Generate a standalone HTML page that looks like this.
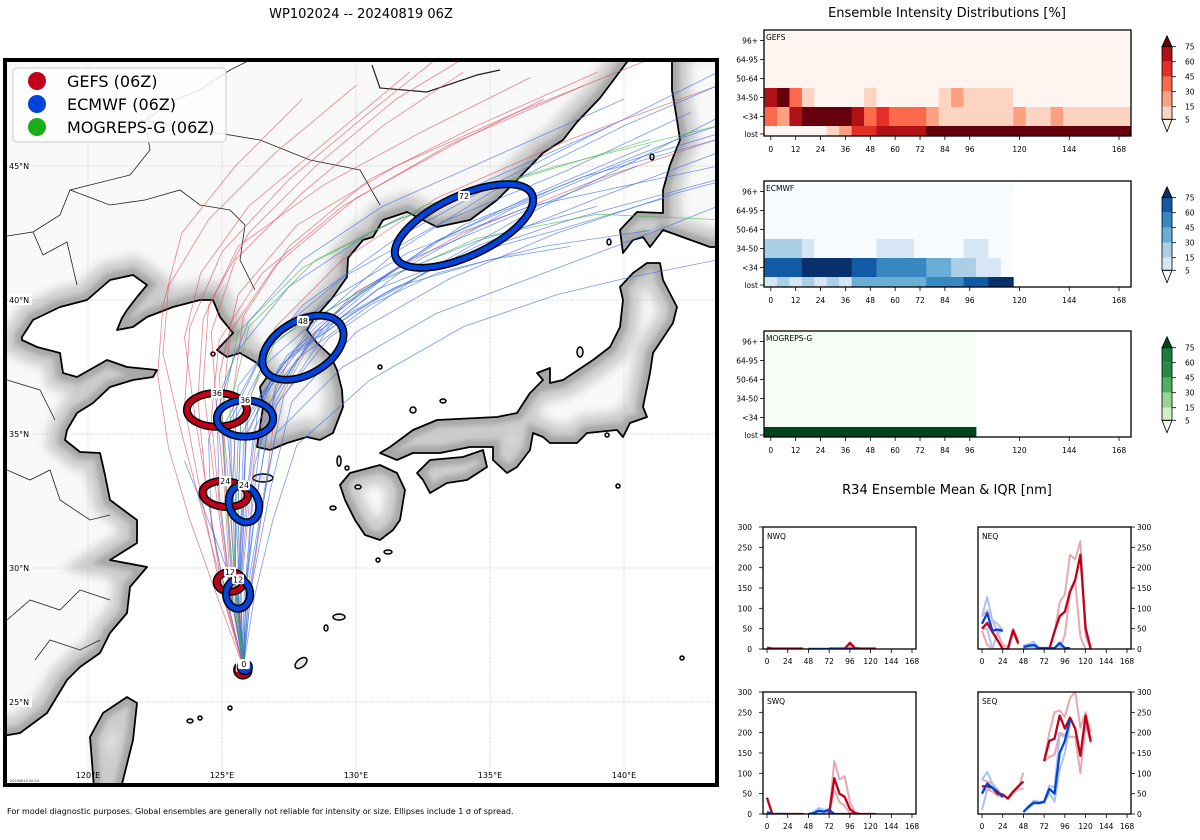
<!DOCTYPE html>
<html><head><meta charset="utf-8"><title>WP102024 ensemble</title>
<style>
html,body{margin:0;padding:0;background:#fff;}
svg{display:block;font-family:"DejaVu Sans","Liberation Sans",sans-serif;}
</style></head>
<body>
<svg id="s" width="1200" height="840" viewBox="0 0 1200 840" xmlns="http://www.w3.org/2000/svg">
<defs>
<clipPath id="mapclip"><rect x="7" y="62" width="708" height="721"/></clipPath>
<clipPath id="landclip"><path id="landclipPath" d=""/></clipPath>
<filter id="blur" x="-20%" y="-20%" width="140%" height="140%"><feGaussianBlur stdDeviation="5"/></filter>
<filter id="blur2" x="-20%" y="-20%" width="140%" height="140%"><feGaussianBlur stdDeviation="2.5"/></filter>
</defs>
<text x="361" y="18" font-size="13" text-anchor="middle">WP102024 -- 20240819 06Z</text>
<g id="mapg" clip-path="url(#mapclip)">
<rect x="0" y="0" width="720" height="790" fill="#fff"/>
<path id="landFill" fill="#f9f9f9"/>
<g clip-path="url(#landclip)">
<path id="landHalo" fill="none" stroke="#cccccc" stroke-width="36" filter="url(#blur)"/>
<path id="landHalo2" fill="none" stroke="#a8a8a8" stroke-width="14" filter="url(#blur2)"/>
</g>
<g id="grid"></g>
<g id="borders" fill="none" stroke="#222" stroke-width="0.8">
<path d="M7,236 L33,232 L43,255 L67,242 L77,285 M33,232 L60,215 L70,190 L130,175 L150,150 L145,120 L175,100 L200,90 L230,70 L250,60"/>
<path d="M70,190 L110,205 L145,200 L180,190 L200,205 L230,210 L245,225 L240,260 L255,290"/>
<path d="M140,120 L200,130 L260,140 L310,160 L360,170 L380,205"/>
<path d="M372,65 L380,88 L427,92 L477,75 L500,70" stroke-width="1.2"/>
<path d="M7,470 L30,480 L50,470 L60,500 L90,520 L110,515 M7,620 L30,600 L60,610 L80,590 L110,600 M35,660 L50,640 L80,650 L100,640 M7,380 L40,390 L55,420"/>
</g>
<path id="landLine" fill="none" stroke="#000" stroke-width="1.8" stroke-linejoin="round"/>
<g id="islands" fill="#e6e6e6" stroke="#000" stroke-width="1.5">
<ellipse cx="263" cy="478" rx="10" ry="4"/>
<ellipse cx="339" cy="461" rx="2" ry="5"/>
<ellipse cx="333" cy="508" rx="3" ry="2"/>
<ellipse cx="347" cy="468" rx="2" ry="2"/>
<ellipse cx="358" cy="487" rx="3" ry="2"/>
<ellipse cx="413" cy="410" rx="3" ry="3"/>
<ellipse cx="443" cy="401" rx="3" ry="2"/>
<ellipse cx="580" cy="352" rx="3" ry="5"/>
<ellipse cx="609" cy="242" rx="2" ry="3"/>
<ellipse cx="339" cy="617" rx="6" ry="3"/>
<ellipse cx="326" cy="628" rx="2" ry="3"/>
<ellipse cx="301" cy="663" rx="7" ry="4" transform="rotate(-40 301 663)"/>
<ellipse cx="190" cy="721" rx="3" ry="2"/>
<ellipse cx="200" cy="718" rx="2" ry="2"/>
<ellipse cx="230" cy="708" rx="2" ry="2"/>
<ellipse cx="388" cy="552" rx="4" ry="2"/>
<ellipse cx="378" cy="560" rx="2" ry="2"/>
<ellipse cx="213" cy="354" rx="2" ry="2"/>
<ellipse cx="380" cy="367" rx="2" ry="2"/>
<ellipse cx="618" cy="486" rx="2" ry="2"/>
<ellipse cx="682" cy="658" rx="2" ry="2"/>
<ellipse cx="607" cy="435" rx="2" ry="2"/>
<ellipse cx="652" cy="157" rx="2" ry="3"/>
</g>
<g id="tracks" fill="none"></g>
<g id="ellipses"></g>
</g>
<rect x="5" y="60" width="712" height="725" fill="none" stroke="#000" stroke-width="4"/>
<g id="latlabels" font-size="8"></g>
<g id="lonlabels" font-size="8"></g>
<text x="10" y="782" font-size="3.5" fill="#333">20240819 20:04</text>
<g>
<rect x="13" y="68" width="213" height="74" rx="4" fill="#fff" fill-opacity="0.85" stroke="#ccc" stroke-width="1"/>
<circle cx="37" cy="81" r="9" fill="#c0001a"/>
<text x="67" y="87" font-size="16">GEFS (06Z)</text>
<circle cx="37" cy="104" r="9" fill="#0044dd"/>
<text x="67" y="110" font-size="16">ECMWF (06Z)</text>
<circle cx="37" cy="127" r="9" fill="#1aae1a"/>
<text x="67" y="133" font-size="16">MOGREPS-G (06Z)</text>
</g>
<text x="7" y="814" font-size="8">For model diagnostic purposes. Global ensembles are generally not reliable for intensity or size. Ellipses include 1 σ of spread.</text>
<text x="947" y="17" font-size="13" text-anchor="middle">Ensemble Intensity Distributions [%]</text>
<g id="heat"></g>
<text x="947" y="494" font-size="13" text-anchor="middle">R34 Ensemble Mean &amp; IQR [nm]</text>
<g id="r34"></g>
</svg>
<script>
// ---------- Heatmap data (percent), 6h columns ----------
const heatRowLabels = ["96+","64-95","50-64","34-50","<34","lost"];
const heatTicks = [0,12,24,36,48,60,72,84,96,120,144,168];
const cbarTicks = [75,60,45,30,15,5];
const gefsUpper = [0,0,0,0,0,0,0,0,0,0,0,0,0,0,0,0,0,0,0,0,0,0,0,0,0,0,0,0,0,0];
const gefs3450 = [65,80,35,8,2,2,2,2,8,2,2,2,2,2,8,20,8,8,8,8,2,2,2,2,2,2,2,2,2,2];
const gefsLt34 = [35,20,65,80,80,80,80,65,35,50,35,35,35,20,8,8,8,8,8,8,20,8,8,20,8,8,8,8,8,8];
const gefsLost = [2,2,2,2,2,8,20,50,50,65,65,65,65,80,80,80,80,80,80,80,80,80,80,80,80,80,80,80,80,80];
const ecUpper = [0,0,0,0,0,0,0,0,0,0,0,0,0,0,0,0,0,0,0,0];
const ec3450 = [20,20,20,8,2,2,2,2,2,8,8,8,2,2,2,2,8,8,2,2];
const ecLt34 = [65,65,65,80,80,80,80,65,65,50,50,50,50,35,35,20,20,8,8,2];
const ecLost = [8,20,8,20,8,20,8,35,35,35,35,35,35,50,50,50,65,65,80,80];
const mogUpper = [0,0,0,0,0,0,0,0,0,0,0,0,0,0,0,0,0];
const mogLost = [80,80,80,80,80,80,80,80,80,80,80,80,80,80,80,80,80];

// ---------- R34 data (nm), 6h steps from 0 to 168 ----------
const r34Hours = [0,6,12,18,24,30,36,42,48,54,60,66,72,78,84,90,96,102,108,114,120,126,132,138,144,150,156,162,168];
const r34Ticks = [0,24,48,72,96,120,144,168];
const r34YTicks = [0,50,100,150,200,250,300];
const N = null;
const nwqGefsMean = [3,1,1,1,1,1,1,1,N,N,N,N,1,1,1,1,15,2,1,1,1,1];
const nwqGefsHi = [4,2,2,2,2,2,2,2,N,N,N,N,2,2,2,2,16,3,2,2,2,2];
const nwqGefsLo = [0,0,0,0,0,0,0,0,N,N,N,N,0,0,0,0,10,0,0,0,0,0];
const nwqEcMean = [N,N,N,N,N,N,N,N,0,0,0,0,0,1,1,1,1,1];
const nwqEcHi = [N,N,N,N,N,N,N,N,1,1,1,1,1,2,2,2,2,2];
const nwqEcLo = [N,N,N,N,N,N,N,N,0,0,0,0,0,0,0,0,0,0];
const neqGefsMean = [50,64,42,22,0,0,46,14,N,N,N,N,N,0,43,81,92,141,170,232,51,0];
const neqGefsHi = [80,95,72,40,10,5,50,20,N,N,N,N,N,0,40,115,135,232,220,265,30,0];
const neqGefsLo = [45,10,0,0,0,0,40,10,N,N,N,N,N,0,0,0,35,140,165,30,0,0];
const neqEcMean = [62,88,45,48,45,N,N,N,5,8,10,2,2,2,2,15,2,2];
const neqEcHi = [80,128,70,62,45,N,N,N,8,12,18,3,3,3,3,15,3,3];
const neqEcLo = [50,50,0,40,45,N,N,N,3,5,5,0,0,0,0,10,0,0];
const swqGefsMean = [40,0,0,0,0,0,0,0,N,N,N,N,0,88,50,42,12,2,0,0,0,0];
const swqGefsHi = [40,0,0,0,0,0,0,0,N,N,N,N,0,130,85,93,30,5,0,0,0,0];
const swqGefsLo = [40,0,0,0,0,0,0,0,N,N,N,N,0,60,30,20,2,0,0,0,0,0];
const swqEcMean = [5,0,0,0,0,N,N,N,0,2,8,6,10,0,0,0,0,0];
const swqEcHi = [5,0,0,0,0,N,N,N,0,5,15,10,12,0,0,0,0,0];
const swqEcLo = [5,0,0,0,0,N,N,N,0,0,2,2,5,0,0,0,0,0];
const seqGefsMean = [68,68,65,50,48,38,55,68,80,N,N,N,130,180,185,242,210,237,210,143,242,178];
const seqGefsHi = [85,80,75,60,45,40,55,65,102,N,N,N,130,200,250,255,238,285,300,212,250,200];
const seqGefsLo = [60,60,55,45,45,38,50,62,62,N,N,N,130,140,145,200,195,190,190,100,220,175];
const seqEcMean = [50,75,65,55,42,N,N,N,5,18,28,27,30,62,50,150,180,232];
const seqEcHi = [85,103,75,55,40,N,N,N,5,20,33,30,30,70,65,195,190,225];
const seqEcLo = [10,60,65,50,40,N,N,N,5,15,25,25,28,52,30,110,150,220];

// ---------- Map data (lon, lat) ----------
const gridLats = [25,30,35,40,45];
const gridLons = [120,125,130,135,140];
const blueTracks = [
[[125.8,26.3],[125.6,29.0],[125.8,32.4],[125.9,35.6],[128.0,38.3],[131.0,40.8],[134.0,42.8],[138.5,44.6],[143.5,46.0]],
[[125.8,26.3],[125.9,29.2],[126.3,32.6],[126.8,35.8],[129.0,38.6],[132.5,41.0],[136.0,43.0],[141.0,45.5],[143.5,46.8]],
[[125.8,26.3],[125.4,28.8],[125.2,32.0],[125.0,35.2],[126.5,38.0],[129.0,40.0],[132.0,41.8],[136.5,43.5],[143.5,45.0]],
[[125.8,26.3],[125.7,29.4],[126.0,33.0],[126.4,36.4],[128.5,39.2],[131.5,41.8],[135.0,44.0],[140.0,46.5],[143.5,48.0]],
[[125.8,26.3],[125.5,28.6],[125.5,31.6],[125.6,34.8],[127.2,37.6],[130.0,39.6],[133.5,41.5],[138.0,43.0],[143.5,44.5]],
[[125.8,26.3],[126.0,29.0],[126.5,32.2],[127.0,35.0],[129.5,37.5],[133.0,39.5],[137.0,41.0],[141.0,42.5],[143.5,43.5]],
[[125.8,26.3],[125.3,29.3],[124.9,32.8],[124.8,36.2],[126.0,39.2],[128.0,41.5],[131.0,43.5],[135.5,45.5],[140.0,47.5]],
[[125.8,26.3],[125.6,28.9],[125.9,32.5],[126.2,35.2],[127.8,37.8],[130.5,39.8],[133.0,41.0],[137.0,42.0],[141.0,42.6]],
[[125.8,26.3],[125.9,29.6],[126.4,33.3],[127.0,36.8],[129.5,39.8],[133.0,42.2],[137.5,44.2],[142.0,46.0],[143.5,46.5]],
[[125.8,26.3],[125.7,28.7],[125.7,31.8],[125.8,34.6],[126.8,37.0],[128.5,39.0],[131.0,40.8],[134.5,42.2],[139.0,43.5]],
[[125.8,26.3],[126.1,29.3],[126.8,32.9],[127.6,36.2],[130.0,38.8],[133.5,40.8],[137.5,42.5],[142.0,44.0],[143.5,44.4]],
[[125.8,26.3],[125.2,28.8],[124.6,31.6],[124.5,34.8],[125.5,38.0],[127.5,40.5],[130.5,42.5],[135.0,44.5],[139.5,46.5]],
[[125.8,26.3],[125.6,29.1],[125.6,32.2],[125.7,35.4],[127.6,38.0],[131.0,40.2],[134.5,42.0],[139.0,43.8],[143.5,45.5]],
[[125.8,26.3],[125.8,28.5],[126.0,31.0],[126.2,33.8],[127.0,36.5],[128.5,38.8],[131.5,40.5],[135.0,41.5],[138.0,42.0]],
[[125.8,26.3],[125.5,29.5],[125.4,33.2],[125.6,36.8],[128.0,39.8],[131.5,42.3],[135.5,44.5],[140.5,47.0],[143.5,48.5]],
[[125.8,26.3],[126.2,28.9],[126.9,31.8],[127.8,34.6],[130.5,37.0],[134.0,39.0],[137.5,40.2],[140.0,40.8],[143.5,41.5]],
[[125.8,26.3],[125.7,29.0],[125.5,32.0],[125.2,35.0],[126.5,37.5],[128.8,39.5],[132.0,41.5],[136.0,43.2],[140.5,45.0]],
[[125.8,26.3],[125.6,28.8],[124.8,31.0],[123.8,33.5],[123.6,34.0]],
[[125.8,26.3],[125.9,29.0],[126.1,32.0],[126.5,35.3],[128.2,38.4],[130.8,40.4],[133.8,41.6],[137.5,42.6],[141.5,43.8]],
[[125.8,26.3],[125.5,29.1],[125.3,32.3],[125.3,35.5],[126.8,38.6],[129.6,40.9],[133.2,42.9],[137.8,44.8],[142.5,47.0]],
[[125.8,26.3],[126.0,29.5],[126.6,33.0],[127.3,36.4],[129.0,39.0],[132.0,41.3],[135.8,43.4],[140.2,45.2],[143.5,46.2]],
[[125.8,26.3],[125.7,28.9],[125.8,31.9],[125.9,35.0],[127.4,37.9],[130.2,40.3],[133.0,42.2],[136.8,44.0],[141.0,45.8]]
];
const redTracks = [
[[125.8,26.3],[125.3,29.5],[125.1,32.8],[124.8,35.9],[124.6,38.8],[125.5,41.5],[128.0,44.0],[131.0,46.5],[134.0,48.5]],
[[125.8,26.3],[125.0,29.2],[124.5,32.5],[124.0,35.6],[123.6,38.6],[124.2,41.0],[126.0,43.5],[129.0,46.0],[132.0,48.5]],
[[125.8,26.3],[125.5,29.8],[125.5,33.2],[125.4,36.4],[125.8,39.4],[127.5,42.0],[130.5,44.5],[134.5,46.5],[139.0,48.5]],
[[125.8,26.3],[125.1,29.0],[124.3,32.0],[123.5,35.0],[122.8,38.0],[123.0,40.5],[124.5,43.0],[127.0,45.5],[130.0,48.0]],
[[125.8,26.3],[125.6,29.6],[125.8,33.0],[126.0,36.2],[127.0,39.0],[129.5,41.5],[133.0,43.8],[138.0,46.0],[143.5,48.0]],
[[125.8,26.3],[124.9,29.4],[124.2,32.8],[123.6,36.0],[123.8,39.0],[125.0,41.8],[127.5,44.5],[130.5,47.0],[133.0,49.0]],
[[125.8,26.3],[125.3,29.2],[124.9,32.4],[124.6,35.6],[124.9,38.5],[126.5,41.0],[129.5,43.5],[133.5,45.8],[138.5,48.0]],
[[125.8,26.3],[125.2,29.7],[124.7,33.4],[124.3,36.8],[124.5,39.8],[126.0,42.5],[128.5,45.0],[131.5,47.5],[134.0,49.0]],
[[125.8,26.3],[125.5,29.3],[125.3,32.6],[125.0,35.8],[125.3,38.8],[127.0,41.3],[130.0,43.8],[134.0,46.0],[137.0,47.5]],
[[125.8,26.3],[125.7,29.0],[126.0,32.2],[126.3,35.0],[127.5,37.8],[130.0,40.3],[134.0,42.5],[139.0,44.5],[143.5,46.0]],
[[125.8,26.3],[124.8,29.0],[123.8,31.8],[123.0,34.5],[122.6,37.2],[122.8,39.8],[123.5,42.5],[125.5,45.0],[128.0,47.5]],
[[125.8,26.3],[125.4,29.9],[125.1,33.6],[124.9,37.2],[125.6,40.2],[127.8,42.8],[131.5,45.0],[136.0,47.0],[141.0,49.0]],
[[125.8,26.3],[126.1,29.4],[126.6,32.8],[127.0,36.0],[128.5,38.8]],
[[125.8,26.3],[125.0,29.6],[124.4,33.0],[124.1,36.3],[124.3,39.3],[125.6,42.0],[128.8,44.3],[132.5,46.3],[136.5,48.3]]
];
const greenTracks = [
[[125.8,26.3],[125.5,29.3],[125.4,32.7],[125.3,36.0],[126.0,39.0],[128.5,41.5],[132.5,43.5],[137.5,45.0],[143.5,46.5]],
[[125.8,26.3],[125.7,29.1],[125.6,32.4],[125.7,35.6],[127.0,38.5],[130.5,40.5],[134.5,42.3],[139.0,43.2],[143.5,43.0]],
[[125.8,26.3],[125.4,29.2],[125.2,32.6],[125.0,35.8],[125.6,38.8],[128.0,41.2],[131.5,43.0],[136.0,44.5],[141.0,46.0]]
];
const ellModel = ["gefs","ecmwf","gefs","ecmwf","gefs","ecmwf","ecmwf","ecmwf","gefs","ecmwf"];
const ellHour = [12,12,24,24,36,36,48,72,0,0];
const ellLon = [125.3,125.6,125.12,125.82,124.81,125.86,128.02,134.03,125.78,125.85];
const ellLat = [29.48,29.03,32.76,32.39,35.9,35.58,38.22,42.76,26.2,26.3];
const ellRx = [0.5,0.45,0.85,0.55,1.12,1.05,1.65,2.8,0.28,0.22];
const ellRy = [0.37,0.55,0.48,0.7,0.63,0.68,1.0,1.12,0.28,0.22];
const ellRot = [0,0,5,-20,0,0,-30,-25,0,0];

// ---------- helpers ----------
const NS = "http://www.w3.org/2000/svg";
function mk(tag, attrs, parent){ const e=document.createElementNS(NS,tag); for(const k in attrs) e.setAttribute(k,attrs[k]); if(parent) parent.appendChild(e); return e; }
function lonX(lon){ return 88 + (lon-120)*26.8; }
function latY(lat){ return 166 + (45-lat)*26.8; }
const PX_PER_DEG = 26.8;

// ---------- land ----------
const mainland = [[-50,-50],[640,-50],[627,62],[600,98],[577,122],[563,140],[543,153],[517,180],[497,200],[470,220],[437,227],[407,212],[383,220],[373,237],[363,240],[348,258],[347,277],[333,297],[313,320],[307,330],[317,343],[330,355],[337,370],[342,390],[343,407],[333,433],[320,440],[307,437],[287,443],[270,450],[257,447],[260,427],[263,407],[260,387],[267,377],[257,363],[240,353],[227,357],[217,350],[233,333],[220,317],[213,300],[200,300],[173,307],[147,317],[133,327],[117,330],[122,318],[127,310],[137,297],[147,285],[133,275],[110,280],[87,300],[60,307],[33,320],[22,337],[22,340],[37,347],[60,353],[63,373],[77,377],[107,360],[127,367],[157,370],[153,377],[133,380],[110,387],[93,403],[77,413],[67,430],[65,440],[80,452],[100,453],[105,475],[110,500],[137,520],[137,543],[110,560],[147,567],[130,587],[127,613],[110,633],[100,653],[80,667],[67,680],[47,713],[20,733],[-50,745]];
const hokkaido = [[672,40],[760,40],[760,247],[710,247],[663,230],[650,247],[643,237],[633,240],[623,253],[620,230],[637,212],[663,213],[663,190],[670,165],[680,140],[677,120],[672,90]];
const honshu = [[647,263],[660,263],[663,280],[677,307],[673,323],[653,353],[650,373],[643,407],[647,417],[630,423],[623,437],[617,430],[587,433],[577,443],[550,443],[543,437],[533,433],[530,450],[517,467],[507,473],[493,460],[493,447],[470,447],[440,453],[413,453],[397,460],[380,453],[390,447],[413,430],[437,420],[497,417],[517,413],[530,393],[543,380],[537,373],[550,368],[550,383],[563,380],[593,360],[610,347],[620,327],[623,300],[620,287],[633,273]];
const shikoku = [[417,473],[430,460],[463,457],[483,450],[487,467],[467,480],[447,483],[430,493],[423,480]];
const kyushu = [[350,473],[380,465],[397,473],[405,490],[400,520],[393,530],[380,540],[365,535],[355,520],[345,500],[340,485]];
const taiwan = [[127,697],[137,703],[133,740],[118,800],[95,800],[90,737],[103,713]];
function poly(p){ return "M"+p.map(q=>q[0]+","+q[1]).join("L")+"Z"; }
const landD = [mainland,hokkaido,honshu,shikoku,kyushu,taiwan].map(poly).join(" ");
document.getElementById("landFill").setAttribute("d",landD);
document.getElementById("landHalo").setAttribute("d",landD);
document.getElementById("landHalo2").setAttribute("d",landD);
document.getElementById("landLine").setAttribute("d",landD);
document.getElementById("landclipPath").setAttribute("d",landD);

// ---------- grid + labels ----------
const grid = document.getElementById("grid");
const latG = document.getElementById("latlabels");
const lonG = document.getElementById("lonlabels");
gridLats.forEach(lat=>{
  const y = latY(lat);
  const l = mk("line",{x1:7,x2:715,y1:y,y2:y,stroke:"#bbb","stroke-width":0.7,"stroke-dasharray":"1,1.5"},grid);
  
  
  const bg = mk("rect",{x:8,y:y-6,width:24,height:11,fill:"#fff",rx:2},latG);
  
  
  const t = mk("text",{x:9,y:y+3},latG); t.textContent = lat+"°N";
  
  
});
gridLons.forEach(lon=>{
  const x = lonX(lon);
  const l = mk("line",{x1:x,x2:x,y1:62,y2:783,stroke:"#bbb","stroke-width":0.7,"stroke-dasharray":"1,1.5"},grid);
  
  
  const t = mk("text",{x:x,y:778,"text-anchor":"middle"},lonG); t.textContent = lon+"°E";
  
  
});

// ---------- tracks ----------
const trG = document.getElementById("tracks");
function drawTracks(list, color, name){
  list.forEach(tr=>{
    const p = mk("polyline",{points:tr.map(q=>lonX(q[0]).toFixed(1)+","+latY(q[1]).toFixed(1)).join(" "),stroke:color,"stroke-width":0.8,"stroke-opacity":0.7},trG);
    
    
  });
}
drawTracks(redTracks,"#e0505e","gefs-track");
drawTracks(blueTracks,"#3c6ee8","ecmwf-track");
drawTracks(greenTracks,"#40b840","mogreps-track");

// ---------- ellipses ----------
const elG = document.getElementById("ellipses");
const modelColor = {gefs:"#c0001a",ecmwf:"#0044dd"};
ellHour.forEach((h,i)=>{
  const cx = lonX(ellLon[i]), cy = latY(ellLat[i]);
  const rx = ellRx[i]*PX_PER_DEG, ry = ellRy[i]*PX_PER_DEG;
  const tf = "rotate("+ellRot[i]+" "+cx+" "+cy+")";
  const g = mk("g",{},elG);
  
  
  if(h===0){
    mk("circle",{cx:cx,cy:cy,r:rx+1.5,fill:modelColor[ellModel[i]],stroke:"#000","stroke-width":1.5},g);
  } else {
    mk("ellipse",{cx:cx,cy:cy,rx:rx,ry:ry,transform:tf,fill:"none",stroke:"#000","stroke-width":8},g);
    mk("ellipse",{cx:cx,cy:cy,rx:rx,ry:ry,transform:tf,fill:"none",stroke:modelColor[ellModel[i]],"stroke-width":5},g);
  }
  const lx = cx + (h===0?-1:0), ly = cy - (h===0?3:ry) ;
  const lb = mk("rect",{x:lx-6,y:ly-5,width:12,height:10,rx:2,fill:"#fff"},g);
  
  
  const t = mk("text",{x:lx,y:ly+3,"font-size":8,"text-anchor":"middle"},g);
  t.textContent = String(h);
  
  
});

// ---------- heatmaps ----------
const heatG = document.getElementById("heat");
const redsC = ["#fff5f0","#fdd4c2","#fca082","#fb6a4a","#e32f27","#b11218","#67000d"];
const bluesC = ["#f7fbff","#d6e6f4","#abd0e6","#6aaed6","#3787c0","#105ba4","#08306b"];
const greensC = ["#f7fcf5","#d3eecd","#98d594","#4bb062","#238b45","#157f3b","#00441b"];
const bins = [5,15,30,45,60,75];
function binIdx(v){ let k=0; while(k<bins.length && v>=bins[k]) k++; return k; }
function hx(h){ return 770.8 + h*(1119-770.8)/168; }
function drawHeat(top, rows, colors, label, name){
  const g = mk("g",{},heatG);
  
  
  const clipId = "hc"+top;
  const cp = mk("clipPath",{id:clipId},g); mk("rect",{x:764,y:top,width:367,height:106},cp);
  const cells = mk("g",{"clip-path":"url(#"+clipId+")"},g);
  rows.forEach((row,r)=>{
    row.forEach((v,i)=>{
      const x0 = hx(6*i-3), x1 = hx(6*i+3);
      const c = mk("rect",{x:x0,y:top+1+19*r,width:x1-x0+0.4,height:19.4,fill:colors[binIdx(v)]},cells);
      
      
    });
  });
  const fr = mk("rect",{x:764,y:top,width:367,height:106,fill:"none",stroke:"#000","stroke-width":1.3},g);
  
  
  const tl = mk("text",{x:766,y:top+10,"font-size":7.5},g); tl.textContent = label;
  
  
  heatRowLabels.forEach((lab,r)=>{
    const yc = top+10.5+19*r - (r===5?1.5:0);
    mk("line",{x1:760,x2:764,y1:yc,y2:yc,stroke:"#000","stroke-width":0.8},g);
    const t = mk("text",{x:758,y:yc+3,"font-size":7.5,"text-anchor":"end"},g); t.textContent = lab;
    
    
  });
  heatTicks.forEach(h=>{
    const x = hx(h);
    mk("line",{x1:x,x2:x,y1:top+106,y2:top+110,stroke:"#000","stroke-width":0.8},g);
    const t = mk("text",{x:x,y:top+122,"font-size":7.5,"text-anchor":"middle"},g); t.textContent = h;
    
    
  });
  const cb = mk("g",{},g);
  
  
  const cy0 = top + 16.7, step = 15;
  mk("polygon",{points:`1162,${cy0} 1167,${cy0-11} 1172,${cy0}`,fill:colors[6],stroke:"#000","stroke-width":0.8},cb);
  for(let k=0;k<5;k++){
    mk("rect",{x:1162,y:cy0+k*step,width:10,height:step,fill:colors[5-k]},cb);
  }
  mk("polygon",{points:`1162,${cy0+4*step+12.6} 1172,${cy0+4*step+12.6} 1167,${cy0+4*step+25}`,fill:colors[0],stroke:"#000","stroke-width":0.8},cb);
  mk("rect",{x:1162,y:cy0,width:10,height:4*step+12.6,fill:"none",stroke:"#000","stroke-width":0.8},cb);
  cbarTicks.forEach((v,k)=>{
    const y = k<5 ? cy0+k*step : cy0+4*step+12.6;
    mk("line",{x1:1172,x2:1176,y1:y,y2:y,stroke:"#000","stroke-width":0.8},cb);
    const t = mk("text",{x:1185,y:y+3,"font-size":7.5},cb); t.textContent = v;
    
    
  });
}
drawHeat(30,[gefsUpper,gefsUpper,gefsUpper,gefs3450,gefsLt34,gefsLost],redsC,"GEFS","heatmap-gefs");
drawHeat(181,[ecUpper,ecUpper,ecUpper,ec3450,ecLt34,ecLost],bluesC,"ECMWF","heatmap-ecmwf");
drawHeat(331,[mogUpper,mogUpper,mogUpper,mogUpper,mogUpper,mogLost],greensC,"MOGREPS-G","heatmap-mogreps");

// ---------- R34 panels ----------
const r34G = document.getElementById("r34");
function drawR34(x0, top, label, side, series, name){
  const W = 153, H = 122;
  const g = mk("g",{},r34G);
  
  
  const xs = h => x0 + 4 + h*(145/168);
  const ys = v => top + H - v*(H/300);
  const clipId = "rc"+x0+"_"+top;
  const cp = mk("clipPath",{id:clipId},g); mk("rect",{x:x0,y:top,width:W,height:H},cp);
  const lines = mk("g",{"clip-path":"url(#"+clipId+")",fill:"none","stroke-linejoin":"round"},g);
  series.forEach(s=>{
    let d = "", pen = false;
    s.data.forEach((v,i)=>{
      if(v===null || v===undefined){ pen=false; return; }
      d += (pen?"L":"M") + xs(r34Hours[i]).toFixed(1)+","+ys(v).toFixed(1);
      pen = true;
    });
    const p = mk("path",{d:d,stroke:s.color,"stroke-width":s.w},lines);
    
    
  });
  const fr = mk("rect",{x:x0,y:top,width:W,height:H,fill:"none",stroke:"#000","stroke-width":1.3},g);
  
  
  const tl = mk("text",{x:x0+4,y:top+12,"font-size":7.5},g); tl.textContent = label;
  
  
  r34Ticks.forEach(h=>{
    const x = xs(h);
    mk("line",{x1:x,x2:x,y1:top+H,y2:top+H+4,stroke:"#000","stroke-width":0.8},g);
    const t = mk("text",{x:x,y:top+H+15,"font-size":7.5,"text-anchor":"middle"},g); t.textContent = h;
    
    
  });
  r34YTicks.forEach(v=>{
    const y = ys(v);
    if(side==="left"){
      mk("line",{x1:x0-4,x2:x0,y1:y,y2:y,stroke:"#000","stroke-width":0.8},g);
      const t = mk("text",{x:x0-11,y:y+3,"font-size":7.5,"text-anchor":"end"},g); t.textContent = v;
      
      
    } else {
      mk("line",{x1:x0+W,x2:x0+W+4,y1:y,y2:y,stroke:"#000","stroke-width":0.8},g);
      const t = mk("text",{x:x0+W+6,y:y+3,"font-size":7.5},g); t.textContent = v;
      
      
    }
  });
}
function ser(gm,gh,gl,em,eh,el){
  return [
    {data:gh,color:"#e9a8b0",w:2,name:"gefs-iqr-high"},
    {data:gl,color:"#e9a8b0",w:2,name:"gefs-iqr-low"},
    {data:eh,color:"#a9c2f2",w:2,name:"ecmwf-iqr-high"},
    {data:el,color:"#a9c2f2",w:2,name:"ecmwf-iqr-low"},
    {data:gm,color:"#c0001a",w:2.3,name:"gefs-mean"},
    {data:em,color:"#0044dd",w:2.3,name:"ecmwf-mean"}
  ];
}
drawR34(763,527,"NWQ","left",ser(nwqGefsMean,nwqGefsHi,nwqGefsLo,nwqEcMean,nwqEcHi,nwqEcLo),"r34-nwq");
drawR34(978,527,"NEQ","right",ser(neqGefsMean,neqGefsHi,neqGefsLo,neqEcMean,neqEcHi,neqEcLo),"r34-neq");
drawR34(763,692,"SWQ","left",ser(swqGefsMean,swqGefsHi,swqGefsLo,swqEcMean,swqEcHi,swqEcLo),"r34-swq");
drawR34(978,692,"SEQ","right",ser(seqGefsMean,seqGefsHi,seqGefsLo,seqEcMean,seqEcHi,seqEcLo),"r34-seq");
</script>
</body></html>
